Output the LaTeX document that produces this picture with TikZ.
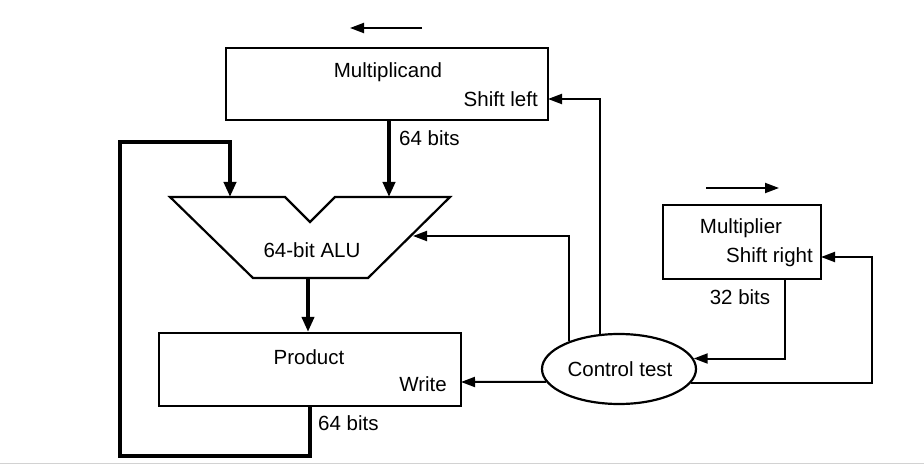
\documentclass[tikz,border=0pt]{standalone}
\usepackage{fontspec}
\setmainfont{Liberation Sans}
\usetikzlibrary{arrows.meta,shapes.geometric}
\tikzset{
  blk/.style={draw, line width=2.2pt, inner sep=0pt},
  txt/.style={inner sep=0pt, font=\fontsize{20.5}{24}\selectfont},
  thin/.style={line width=2pt},
  thick/.style={line width=4.2pt},
  tip/.style={-{Triangle[length=14pt,width=10pt]}},
  bigtip/.style={-{Triangle[length=15pt,width=12pt]}}
}
\begin{document}
\begin{tikzpicture}[x=1pt,y=-1pt]
\useasboundingbox (0,0) rectangle (924,468);
\fill[white] (0,0) rectangle (924,468);
\draw[gray!35, line width=1pt] (0,463) -- (924,463);

% registers
\node[blk, minimum width=322pt, minimum height=72pt] (mcand) at (387,84) {};
\node[blk, minimum width=302pt, minimum height=73pt] (prod) at (310,369.5) {};
\node[blk, minimum width=158pt, minimum height=74pt] (mplr) at (742,242) {};
\node[blk, ellipse, minimum width=154pt, minimum height=70pt] (ctl) at (619,369) {};

% ALU outline with notch
\draw[line width=2.2pt, line join=miter]
  (170,197) -- (285,197) -- (310,222) -- (335,197) -- (450,197)
  -- (368,278) -- (253,278) -- cycle;
\coordinate (aluInA) at (230,197);
\coordinate (aluInB) at (389,197);
\coordinate (aluCtl) at (413,236);
\coordinate (aluOut) at (308,278);

% labels
\node[txt] (lmc) at (388,72) {Multiplicand};
\node[txt, anchor=east] (lsl) at (538,99) {Shift left};
\node[txt] (lprod) at (309,357) {Product};
\node[txt, anchor=east] (lwr) at (447,384) {Write};
\node[txt] (lalu) at (312,250) {64-bit ALU};
\node[txt] (lmp) at (741,228) {Multiplier};
\node[txt, anchor=east] (lsr) at (813,257) {Shift right};
\node[txt] (lct) at (620,369) {Control test};
\node[txt, anchor=west] (b1) at (399,138) {64 bits};
\node[txt, anchor=west] (b2) at (318,423) {64 bits};
\node[txt] (b3) at (740,297) {32 bits};

% shift direction arrows
\coordinate (sl0) at (422,28); \coordinate (sl1) at (350,28);
\coordinate (sr0) at (706,188); \coordinate (sr1) at (779,188);
\draw[thin, tip] (sl0) -- (sl1);
\draw[thin, tip] (sr0) -- (sr1);

% data paths
\draw[thick, bigtip] (aluInB |- mcand.south) -- (aluInB);
\draw[thick, bigtip] (aluOut) -- (aluOut |- prod.north);
\coordinate (fbBL) at (120,456);
\coordinate (fbTL) at (120,142);
\draw[thick, bigtip, line join=miter] (prod.south) |- (fbBL) -- (fbTL) -| (aluInA);

% control paths
\coordinate (mcShift) at (548,99);
\coordinate (prWrite) at (461,382);
\coordinate (mpShift) at (821,257);
\coordinate (rtc) at (872,257);
\coordinate (m32) at (785,279);
\draw[thin, tip] (ctl.119.3) |- (mcShift);
\draw[thin, tip] (ctl.151.6) |- (aluCtl);
\draw[thin, tip] (ctl.190.3) -- (prWrite);
\draw[thin, tip, line join=miter] (ctl.349.7) -| (rtc) -- (mpShift);
\draw[thin, tip, line join=miter] (m32) |- (ctl.8.6);
\end{tikzpicture}
\end{document}
